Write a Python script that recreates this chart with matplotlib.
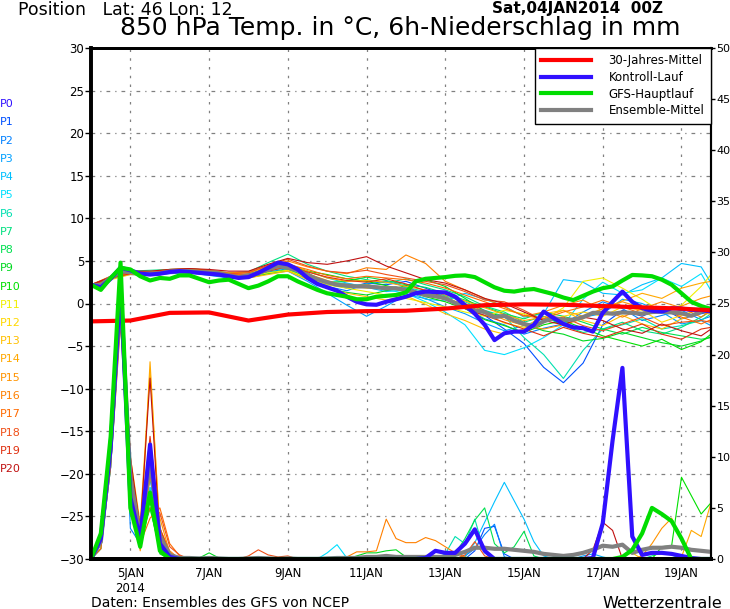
import numpy as np
import matplotlib
matplotlib.use("Agg")
import matplotlib.pyplot as plt
from matplotlib.lines import Line2D

# time axis: days after 04JAN2014 00Z
t6 = np.arange(64) * 0.25
t12 = np.append(np.arange(32) * 0.5, 15.75)
t_clim = np.append(np.arange(16), 15.75)

date_ticks = [1, 3, 5, 7, 9, 11, 13, 15]
date_labels = ['5JAN\n2014', '7JAN', '9JAN', '11JAN', '13JAN', '15JAN', '17JAN', '19JAN']

# 30-year climate mean (daily)
clim_temp = [-2.1, -2.0, -1.1, -1.05, -2.0, -1.3, -1.0, -0.9, -0.85, -0.6, -0.2, -0.1,
             -0.15, -0.3, -0.45, -0.6, -0.8]

# control run (P0), 6-hourly
ctrl_temp = [2.2, 1.9, 2.9, 4.2, 3.9, 3.5, 3.4, 3.5, 3.7, 3.8, 3.7, 3.6, 3.5, 3.4, 3.2, 3.0,
             3.1, 3.6, 4.2, 4.8, 4.6, 4.0, 3.0, 2.3, 1.9, 1.5, 0.8, 0.2, -0.1, -0.15, 0.2, 0.5,
             0.8, 1.2, 1.4, 1.35, 1.3, 0.8, -0.2, -1.2, -2.5, -4.3, -3.5, -3.3, -3.3, -2.5, -0.95, -1.7,
             -2.4, -2.8, -2.9, -3.3, -1.1, 0.2, 1.4, 0.2, -0.55, -0.85, -0.95, -0.55, -0.6, -0.75, -0.75, -0.95]
ctrl_prec = [0, 2, 11, 27,  6, 2, 11.2, 1.5,  0.2, 0, 0, 0,  0, 0, 0, 0,
             0, 0, 0, 0,  0, 0, 0, 0,  0, 0, 0, 0,  0, 0, 0, 0,
             0, 0, 0.1, 0.8,  0.6, 0.6, 1.5, 2.9,  0.8, 0, 0, 0,  0, 0, 0, 0,
             0, 0, 0, 0.1,  3.5, 11.6, 18.7, 2.2,  0.4, 0.6, 0.6, 0.5,  0.3, 0.1, 0, 0]

# GFS main run, 6-hourly
gfs_temp = [2.2, 1.6, 3.0, 4.2, 4.0, 3.2, 2.7, 3.0, 2.9, 3.3, 3.3, 2.9, 2.5, 2.7, 2.8, 2.3,
            1.8, 2.1, 2.6, 3.2, 3.2, 2.6, 2.1, 1.6, 1.2, 1.0, 0.8, 0.5, 0.5, 0.8, 0.9, 1.0,
            1.3, 2.6, 2.9, 3.0, 3.1, 3.25, 3.3, 3.1, 2.5, 1.9, 1.5, 1.4, 1.6, 1.7, 1.4, 1.1,
            0.7, 0.4, 0.9, 1.4, 1.8, 2.0, 2.7, 3.35, 3.3, 3.2, 2.8, 2.2, 1.2, 0.2, -0.3, -0.65]
gfs_prec = [0, 2.5, 12, 29,  5, 1.2, 6.5, 0.8,  0, 0, 0, 0,  0, 0, 0, 0,
            0, 0, 0, 0,  0, 0, 0, 0,  0, 0, 0, 0,  0, 0, 0, 0,
            0, 0, 0, 0,  0, 0, 0, 0,  0, 0, 0, 0,  0, 0, 0, 0,
            0, 0, 0, 0,  0, 0, 0.2, 0.9,  2.5, 5.0, 4.4, 3.7,  2.0, 0, 0, 0]

# ensemble mean, 6-hourly
mean_temp = [2.1, 2.2, 3.0, 3.75, 3.7, 3.45, 3.5, 3.55, 3.75, 3.8, 3.8, 3.7, 3.65, 3.55, 3.3, 3.1,
             3.3, 3.55, 4.0, 4.4, 4.2, 3.9, 3.3, 2.85, 2.5, 2.2, 2.1, 2.0, 2.0, 1.9, 1.8, 1.8,
             1.6, 1.3, 1.0, 0.85, 0.6, 0.05, -0.3, -0.8, -1.0, -1.6, -1.45, -2.0, -2.4, -2.7, -2.1, -1.7,
             -1.9, -1.9, -1.6, -1.1, -1.1, -1.2, -1.05, -1.1, -1.2, -1.0, -0.95, -1.05, -1.15, -1.45, -0.95, -0.75]
mean_prec = [0, 1.7, 11, 26, 8, 2.2, 9.5, 2.3, 0.4, 0.1, 0.1, 0.05, 0.1, 0.05, 0, 0,
             0.05, 0.1, 0.05, 0, 0.05, 0, 0, 0, 0.05, 0.1, 0.1, 0.1, 0.2, 0.2, 0.3, 0.2,
             0.2, 0.2, 0.2, 0.2, 0.2, 0.4, 0.7, 1.1, 1.1, 1.0, 1.0, 0.9, 0.8, 0.7, 0.5, 0.4,
             0.3, 0.4, 0.6, 0.9, 1.3, 1.2, 1.4, 0.6, 0.9, 1.1, 1.1, 1.2, 1.1, 0.9, 0.8, 0.7]

# members P1..P20, temperature 12-hourly
member_temp = [
    [2.1, 3.2, 3.8, 3.4, 3.9, 4.0, 3.5, 3.0, 3.4, 4.2, 4.6, 3.6, 2.4, 1.8, 2.4, 2.2, 2.6, 1.8, 0.9, -0.6, -1.4, -3.0, -4.7, -7.5, -9.3, -7.0, -2.5, -0.8, -1.5, -0.5, -1.8, -1.2, -1.0],
    [2.0, 2.9, 3.5, 3.7, 3.6, 3.9, 3.8, 3.4, 3.2, 3.7, 4.1, 3.0, 2.0, 1.5, 2.3, 2.6, 2.0, 1.0, 0.5, -0.5, -1.8, -2.5, -3.6, -2.9, -2.4, -1.0, 0.2, -0.6, -2.0, -1.4, -0.8, -1.9, -1.5],
    [2.1, 3.1, 3.4, 3.3, 3.5, 3.6, 3.3, 3.0, 3.1, 3.5, 3.8, 2.6, 1.2, -0.2, -1.5, -0.3, 1.0, 0.6, -0.4, -1.2, -2.3, -3.2, -2.6, -1.8, -2.2, -1.6, -1.2, 0.5, 0.0, -1.0, -2.4, -2.0, -2.6],
    [2.2, 3.0, 3.7, 3.6, 3.8, 3.9, 3.7, 3.5, 3.4, 4.0, 4.5, 3.8, 3.0, 2.4, 1.9, 1.4, 1.6, 0.5, 0.3, 1.2, 0.5, -0.3, -1.6, -1.2, 2.8, 2.5, 1.2, 1.0, 2.2, 3.0, 4.7, 4.3, 2.4],
    [2.0, 3.1, 3.6, 3.5, 3.7, 3.7, 3.5, 3.2, 3.3, 3.8, 4.2, 3.5, 2.6, 2.3, 2.1, 1.6, 1.2, 0.2, -1.0, -2.5, -5.5, -6.0, -5.2, -4.0, -2.5, 0.5, 2.5, 1.2, 1.6, 3.0, 2.0, 3.5, 1.5],
    [2.1, 3.0, 3.5, 3.4, 3.8, 3.7, 3.4, 3.1, 3.5, 4.2, 4.6, 3.4, 2.2, 1.9, 2.3, 1.5, 1.9, 1.4, 0.9, 0.2, -0.8, -1.5, -4.0, -6.0, -8.8, -5.5, -3.0, -2.5, -1.8, -3.0, -2.6, -2.0, -1.2],
    [2.2, 3.1, 3.8, 3.9, 4.0, 4.1, 3.9, 3.6, 3.7, 4.8, 5.8, 4.6, 3.8, 3.2, 2.8, 2.4, 2.9, 2.2, 1.6, 0.8, -0.3, -1.0, -2.2, -1.5, -2.6, -3.4, -3.0, -2.2, -3.2, -3.6, -2.8, -1.6, -0.9],
    [2.1, 2.9, 3.5, 3.4, 3.6, 3.9, 3.7, 3.3, 3.2, 3.6, 4.0, 3.1, 2.5, 2.6, 3.1, 2.7, 2.2, 1.9, 1.2, 0.4, -0.4, -1.2, -1.8, -1.0, -1.5, -2.2, -3.0, -3.6, -2.8, -3.4, -3.8, -4.2, -4.0],
    [2.0, 3.0, 3.6, 3.5, 3.9, 3.8, 3.4, 3.1, 3.0, 3.5, 3.9, 2.9, 1.8, 1.3, 1.0, 1.5, 2.1, 2.8, 2.0, 0.6, -0.9, -1.6, -2.4, -3.2, -3.6, -4.4, -4.1, -3.4, -4.0, -4.6, -5.0, -4.4, -3.9],
    [2.1, 3.1, 3.7, 3.6, 3.8, 3.7, 3.5, 3.3, 3.4, 4.1, 4.5, 3.8, 3.4, 2.9, 2.6, 2.1, 1.5, 0.8, 0.2, -0.6, -1.9, -2.6, -3.4, -2.5, -2.0, -2.9, -3.8, -4.4, -5.0, -4.2, -5.4, -4.5, -3.6],
    [2.1, 3.0, 3.6, 3.5, 3.8, 3.8, 3.5, 3.2, 3.2, 3.6, 3.9, 3.0, 2.2, 1.8, 1.4, 1.0, 0.6, 0.1, -0.4, -1.0, -1.5, -0.8, -1.2, -1.9, -0.5, 2.6, 3.0, 1.8, 0.5, -1.0, -0.2, 2.0, 3.4],
    [2.2, 3.0, 3.7, 3.6, 3.7, 3.6, 3.7, 3.4, 3.3, 4.0, 4.3, 3.3, 2.6, 2.2, 1.8, 2.0, 1.6, 1.0, 0.8, -0.3, -1.2, -2.3, -2.8, -2.2, -1.5, -1.0, -1.5, -0.4, -0.8, -2.2, -1.4, -0.6, -0.4],
    [2.1, 2.8, 3.4, 3.3, 3.6, 3.7, 3.5, 3.1, 3.0, 3.4, 3.8, 2.8, 1.8, 1.2, 0.8, 0.4, 0.9, -0.1, -1.2, -2.0, -3.0, -3.6, -3.0, -1.2, -0.8, -2.0, -2.6, -1.4, -2.4, -3.0, -1.8, -1.0, -1.3],
    [2.0, 3.0, 3.6, 3.6, 3.9, 4.0, 3.8, 3.5, 3.6, 4.3, 4.7, 3.8, 3.0, 2.6, 2.7, 2.5, 2.0, 1.6, 1.0, 0.3, -0.5, -1.3, -2.0, -1.6, -0.8, -1.5, -0.6, 0.3, 1.2, 0.6, 1.8, 2.4, 2.6],
    [2.1, 3.1, 3.5, 3.4, 3.6, 3.8, 3.7, 3.4, 3.3, 3.9, 4.4, 3.5, 2.7, 2.0, 2.2, 1.9, 1.4, 0.9, 0.5, 0.0, -0.9, -1.9, -2.6, -3.0, -2.5, -1.8, -0.6, 0.2, -0.5, -1.0, -0.3, 0.6, 0.9],
    [2.2, 3.2, 3.8, 3.7, 4.0, 4.1, 3.9, 3.6, 3.7, 4.4, 5.0, 4.3, 3.8, 3.5, 4.2, 4.0, 5.7, 4.7, 2.6, 1.6, 0.6, -0.4, -1.5, -1.0, -0.2, 0.4, -0.8, -1.6, -0.6, 0.2, -0.5, -1.6, -0.8],
    [2.1, 3.0, 3.7, 3.5, 3.8, 3.9, 3.7, 3.4, 3.4, 4.1, 4.6, 4.0, 3.3, 2.9, 3.2, 3.0, 2.8, 2.4, 1.8, 1.0, 0.2, -0.6, -1.4, -1.8, -1.0, -0.4, 0.4, -0.4, -1.2, -0.6, -1.6, -2.4, -1.9],
    [2.2, 3.1, 3.7, 3.6, 3.9, 3.9, 3.8, 3.5, 3.6, 4.5, 5.2, 4.4, 3.8, 3.6, 3.9, 3.4, 3.0, 2.6, 2.2, 1.4, 0.4, 0.2, -0.8, -2.0, -1.6, -2.6, -3.2, -2.4, -1.6, -2.6, -2.2, -2.0, -2.2],
    [2.1, 3.0, 3.5, 3.5, 3.7, 3.8, 3.6, 3.3, 3.2, 3.8, 4.3, 3.7, 3.1, 2.7, 2.5, 2.9, 2.3, 1.5, 0.7, -0.6, -1.4, -2.2, -3.0, -3.8, -2.8, -3.5, -4.0, -3.2, -2.4, -3.6, -4.2, -3.0, -2.8],
    [2.2, 3.1, 3.8, 3.8, 4.0, 4.1, 4.0, 3.8, 3.8, 4.6, 5.3, 4.8, 4.6, 5.0, 5.5, 4.4, 3.6, 2.8, 2.4, 1.6, 0.6, 0.0, -1.0, -2.0, -2.5, -1.6, -2.0, -3.0, -3.5, -2.4, -3.2, -3.8, -3.0],
]

# members P1..P20, 6h precipitation (four rows of 16 steps each)
member_prec = [
    [0, 1.5, 10, 26,  7, 2, 8, 1.5,  0.2, 0, 0, 0,  0, 0, 0, 0,
     0, 0, 0, 0,  0, 0, 0, 0,  0, 0, 0, 0,  0, 0, 0, 0,
     0, 0, 0, 0,  0, 0, 0, 0.8,  3.0, 3.2, 0.5, 0,  0, 0, 0, 0,
     0, 0, 0, 0,  0, 0, 0, 0,  0, 0, 0, 0,  0, 0, 0, 0],
    [0, 2, 11, 25,  3, 1.5, 7, 1,  0.1, 0, 0, 0,  0, 0, 0, 0,
     0, 0, 0, 0,  0, 0, 0, 0,  0, 0, 0, 0,  0, 0, 0, 0,
     0, 0, 0, 0,  0, 0, 0.3, 1.0,  2.4, 3.4, 0.2, 0,  0, 0, 0, 0,
     0, 0, 0, 0,  0, 0, 0, 0,  0, 0, 0, 0,  0, 0, 0, 0],
    [0, 1, 9, 24,  8, 2.5, 6, 1.5,  0.2, 0, 0, 0,  0, 0, 0, 0,
     0, 0, 0, 0,  0, 0, 0, 0,  0, 0, 0, 0,  0, 0, 0, 0,
     0, 0, 0, 0,  0, 0, 0, 0,  0, 0, 0, 0,  0, 0, 0, 0,
     0, 0, 0.3, 0.5,  0.2, 0, 0, 0,  0, 0, 0, 0,  0, 0, 0, 0],
    [0, 2, 12, 27,  9, 3, 9, 2.5,  0.5, 0, 0, 0,  0, 0, 0, 0,
     0, 0, 0, 0,  0, 0, 0, 0,  0, 0, 0, 0,  0, 0, 0, 0,
     0, 0, 0, 0,  0, 0, 0.2, 1.6,  3.6, 5.6, 7.5, 5.7,  3.9, 1.7, 0.3, 0,
     0, 0, 0, 0,  0, 0, 0, 0,  0, 0, 0, 0,  0, 0, 0, 0],
    [0, 1.5, 10, 25,  8, 2, 7, 2,  0.3, 0, 0, 0,  0, 0, 0, 0,
     0, 0, 0, 0,  0, 0, 0, 0,  0.6, 1.4, 0.1, 0,  0, 0, 0, 0,
     0, 0, 0, 0,  0, 0, 0, 0,  0, 0, 0, 0,  0, 0, 0, 0,
     0, 0, 0, 0,  0, 0, 0, 0,  0, 0, 0, 0,  0, 0, 0, 0],
    [0, 2.5, 13, 28,  9, 3, 8, 2.5,  0.6, 0, 0, 0,  0, 0, 0, 0,
     0, 0, 0, 0,  0, 0, 0, 0,  0, 0, 0, 0,  0, 0, 0, 0,
     0, 0, 0, 0,  0.5, 2.2, 1.5, 3.9,  0.6, 0, 0, 0,  0, 0, 0, 0,
     0, 0, 0, 0,  0, 0, 0, 0,  0, 0, 0, 0,  0, 0, 0, 0],
    [0, 1, 9, 24,  7, 2, 6, 1,  0.2, 0, 0, 0,  0, 0, 0, 0,
     0, 0, 0, 0,  0, 0, 0, 0,  0, 0, 0, 0,  0, 0, 0, 0,
     0, 0, 0, 0,  0, 0, 0, 0,  0, 0, 0, 0,  0, 0, 0, 0,
     0, 0, 0, 0,  0, 0, 0, 0,  0, 0.3, 0.6, 0.4,  0, 0, 0, 0],
    [0, 2, 12, 27,  8, 1.5, 5, 1,  0.1, 0, 0, 0,  0, 0, 0, 0,
     0, 0, 0, 0,  0, 0, 0, 0,  0, 0, 0, 0,  0, 0, 0, 0,
     0, 0, 0, 0,  0, 0.5, 2.0, 3.8,  5.0, 1.5, 0.6, 1.2,  2.7, 0.3, 0, 0,
     0, 0, 0, 0,  0, 0, 0, 0,  0, 0, 0, 0,  0, 0, 0, 0],
    [0, 1.5, 11, 26,  6, 1.5, 6, 0.5,  0, 0, 0, 0.1,  0.6, 0.1, 0, 0,
     0, 0, 0, 0,  0, 0, 0, 0,  0, 0, 0, 0.3,  0.6, 0.6, 0.8, 0.9,
     0.2, 0, 0, 0,  0, 0, 0, 0,  0, 0, 0, 0,  0, 0, 0, 0,
     0, 0, 0, 0,  0, 0, 0, 0,  0, 0, 0, 0,  0, 0, 0, 0],
    [0, 2, 12, 28,  7, 2, 5, 0.8,  0, 0, 0, 0,  0, 0, 0, 0,
     0, 0, 0, 0,  0, 0, 0, 0,  0, 0, 0, 0,  0, 0, 0, 0,
     0, 0, 0, 0,  0, 0, 0, 0,  0, 0, 0, 0,  0, 0, 0, 0,
     0, 0, 0, 0,  0, 0, 0, 0,  0, 0, 1.2, 1.3,  8.0, 6.2, 4.4, 5.5],
    [0, 1, 10, 25,  8, 2, 9, 2,  0.2, 0, 0, 0,  0, 0, 0, 0,
     0, 0, 0, 0,  0, 0, 0, 0,  0, 0, 0, 0,  0, 0, 0, 0,
     0, 0, 0, 0,  0, 0, 0, 0,  0, 0, 0, 0,  0, 0, 0, 0,
     0, 0, 0, 0,  0, 0, 0, 0,  0, 0, 0, 0,  0, 0, 0, 0],
    [0, 1.5, 11, 26,  9, 3, 10, 2,  0.3, 0, 0, 0,  0, 0, 0, 0,
     0, 0, 0, 0,  0, 0, 0, 0,  0, 0, 0, 0,  0, 0, 0, 0,
     0, 0, 0, 0,  0, 0, 0, 0,  0, 0, 0, 0,  0, 0, 0, 0,
     0, 0, 0, 0,  0, 0, 0, 0,  0, 0, 0, 0,  0, 0, 0, 0],
    [0, 2, 12, 27,  10, 3.5, 18.5, 3,  0.5, 0, 0, 0,  0, 0, 0, 0,
     0, 0, 0, 0,  0, 0, 0, 0,  0, 0, 0, 0,  0, 0, 0, 0,
     0, 0, 0, 0,  0, 0, 0, 0,  0, 0, 0, 0,  0, 0, 0, 0,
     0, 0, 0, 0,  0, 0, 0.3, 0.6,  0, 0, 0, 0,  0, 0, 0, 0],
    [0, 2, 11, 26,  9, 1, 19.3, 2.5,  0.3, 0, 0, 0,  0, 0, 0, 0,
     0, 0, 0, 0,  0, 0, 0, 0,  0, 0, 0, 0,  0, 0, 0, 0,
     0, 0, 0, 0,  0, 0, 0, 0,  0, 0, 0, 0,  0, 0, 0, 0,
     0, 0, 0, 0,  0, 0, 0, 0,  0, 0, 0, 0,  0.2, 2.8, 2.2, 5.5],
    [0, 2.5, 12, 25,  7, 0.8, 8, 4,  0.6, 0, 0, 0,  0, 0, 0, 0,
     0, 0, 0, 0,  0, 0, 0, 0,  0, 0, 0, 0,  0, 0, 0, 0,
     0, 0, 0, 0,  0, 0, 0, 0,  0, 0, 0, 0,  0, 0, 0, 0,
     0, 0, 0, 0,  0, 0, 0, 0,  0.3, 1.5, 3.0, 4.0,  1.8, 0, 0, 0],
    [0, 2, 10, 24,  6, 1, 6, 3,  0.8, 0, 0, 0,  0, 0, 0, 0,
     0, 0, 0, 0,  0, 0, 0, 0,  0, 0, 0.2, 0.7,  0.7, 0.8, 3.9, 2.0,
     1.6, 1.6, 2.1, 1.8,  1.2, 0.6, 0.2, 0,  0, 0, 0, 0,  0, 0, 0, 0,
     0, 0, 0, 0,  0, 0, 0, 0,  0, 0, 0, 0,  0, 0, 0, 0],
    [0, 1.5, 11, 26,  7, 1.5, 4, 5,  1.5, 0.3, 0, 0,  0, 0, 0, 0,
     0, 0, 0, 0,  0, 0, 0, 0,  0, 0, 0, 0,  0, 0, 0, 0,
     0, 0, 0, 0,  0, 0, 0, 0,  0, 0, 0, 0,  0, 0, 0, 0,
     0, 0, 0, 0,  0, 0, 0, 0,  0, 0, 0, 0,  0, 0, 0, 0],
    [0, 1, 9, 23,  8, 2.5, 5, 4.5,  1.2, 0.4, 0, 0,  0, 0, 0, 0,
     0.3, 0.9, 0.4, 0.2,  0.3, 0, 0, 0,  0, 0, 0, 0,  0, 0, 0, 0,
     0, 0, 0, 0,  0, 0, 0.4, 1.7,  0.3, 0, 0, 0,  0, 0, 0, 0,
     0, 0, 0, 0,  0, 0, 0, 0,  0, 0, 0, 0,  0, 0, 0, 0],
    [0, 1.5, 10, 25,  9, 3, 12, 3,  0.5, 0, 0, 0,  0, 0, 0, 0,
     0, 0, 0, 0,  0, 0, 0, 0,  0, 0, 0, 0,  0, 0, 0, 0,
     0, 0, 0, 0,  0, 0, 0, 0,  0, 0, 0, 0,  0, 0, 0, 0,
     0, 0, 0, 0,  0, 0, 0, 0,  0, 0, 0, 0,  0, 0, 0, 0],
    [0, 2, 12, 27,  10, 3, 17.7, 2,  0.3, 0, 0, 0,  0, 0, 0, 0,
     0, 0, 0, 0,  0, 0, 0, 0,  0, 0, 0, 0,  0, 0, 0, 0,
     0, 0, 0, 0,  0, 0, 0, 0,  0, 0, 0, 0,  0, 0, 0, 0,
     0, 0, 0, 0.9,  3.6, 2.8, 0, 0,  0, 0, 0, 0,  0, 0, 0, 0],
]

member_names = ['P%d' % i for i in range(21)]
member_colors = ['#0050ff', '#0080ff', '#00a0ff', '#00c0ff', '#00e0ff', '#00e0b0', '#00e080',
                 '#00e050', '#00d820', '#00e000', '#f0f000', '#ffd800', '#ffc000', '#ffa800',
                 '#ff9400', '#ff8000', '#ff6a00', '#f05018', '#e03010', '#c01010']

c_clim = '#ff0000'
c_ctrl = '#3010ff'
c_gfs = '#00dd00'
c_mean = '#808080'

fig = plt.figure(figsize=(7.30, 6.09), dpi=100)
ax = fig.add_axes([91 / 730, 1 - 559 / 609, 620 / 730, 511 / 609])
ax2 = ax.twinx()

thin = 0.8
thick = 3.0

# members
for vals, col in zip(member_temp, member_colors):
    ax.plot(t12, vals, color=col, lw=thin, zorder=2)
for vals, col in zip(member_prec, member_colors):
    ax2.plot(t6, vals, color=col, lw=thin, zorder=2)

# thick lines
ax.plot(t6, mean_temp, color=c_mean, lw=thick, zorder=3)
ax.plot(t6, ctrl_temp, color=c_ctrl, lw=thick, zorder=4)
ax.plot(t6, gfs_temp, color=c_gfs, lw=thick, zorder=5)
ax.plot(t_clim, clim_temp, color=c_clim, lw=thick, zorder=6)
ax2.plot(t6, mean_prec, color=c_mean, lw=thick, zorder=3)
ax2.plot(t6, ctrl_prec, color=c_ctrl, lw=thick, zorder=4)
ax2.plot(t6, gfs_prec, color=c_gfs, lw=thick, zorder=5)

ax.set_xlim(0, 15.75)
ax.set_ylim(-30, 30)
ax2.set_ylim(0, 50)

ax.set_yticks(np.arange(-30, 31, 5))
ax2.set_yticks(np.arange(0, 51, 5))
ax.set_xticks(date_ticks)
ax.set_xticklabels(date_labels, fontsize=8.5)
ax.tick_params(axis='x', length=0, pad=6)
ax.tick_params(axis='y', length=4, width=1, labelsize=8.5, pad=1)
ax2.tick_params(axis='y', length=3, width=1, labelsize=8, pad=1)

# grid
for d in date_ticks:
    ax.axvline(d, color='#808080', lw=0.9, ls=(0, (2, 5)), zorder=1)
for y in range(-25, 30, 5):
    ax.axhline(y, color='#808080', lw=0.9, ls=(0, (3, 4, 1, 4)), zorder=1)

for a in (ax, ax2):
    a.spines['left'].set_linewidth(2.6)
    a.spines['bottom'].set_linewidth(2.8)
    a.spines['top'].set_linewidth(2.0)
    a.spines['right'].set_linewidth(1.5)
    for side in a.spines.values():
        side.set_zorder(10)

# legend
handles = [Line2D([], [], color=c_clim, lw=thick),
           Line2D([], [], color=c_ctrl, lw=thick),
           Line2D([], [], color=c_gfs, lw=thick),
           Line2D([], [], color=c_mean, lw=thick)]
leg = ax2.legend(handles, ['30-Jahres-Mittel', 'Kontroll-Lauf', 'GFS-Hauptlauf', 'Ensemble-Mittel'],
                 loc='upper right', bbox_to_anchor=(1, 1), borderaxespad=0, fontsize=8.5,
                 handlelength=4.2, handletextpad=1.5, labelspacing=0.3, borderpad=0.55,
                 fancybox=False, framealpha=1, edgecolor='black')
leg.get_frame().set_linewidth(1.0)
leg.set_zorder(20)

# member labels at the left
label_colors = [c_ctrl] + member_colors
for i, (name, col) in enumerate(zip(member_names, label_colors)):
    fig.text(0.0, 1 - (104 + 18.25 * i) / 609, name, color=col, fontsize=8, va='center', ha='left')

fig.text(18 / 730, 1 - 1 / 609, 'Position   Lat: 46 Lon: 12', fontsize=12.5, va='top', ha='left')
fig.text(400 / 730, 1 - 28 / 609, '850 hPa Temp. in °C, 6h-Niederschlag in mm', fontsize=18,
         va='center', ha='center')
fig.text(492 / 730, 1 - 8 / 609, 'Sat,04JAN2014  00Z', fontsize=11, fontweight='bold', va='center', ha='left')
fig.text(91 / 730, 1 - 603 / 609, 'Daten: Ensembles des GFS von NCEP', fontsize=10, va='center', ha='left')
fig.text(722 / 730, 1 - 603 / 609, 'Wetterzentrale', fontsize=11.5, va='center', ha='right')

fig.savefig('out.png', dpi=100, facecolor='white')
